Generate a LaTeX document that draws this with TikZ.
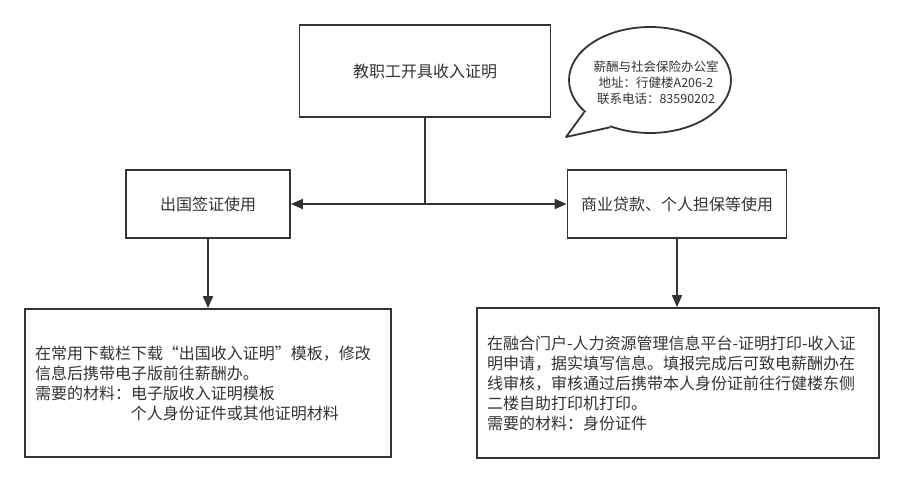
\documentclass[tikz,border=0pt]{standalone}
\usepackage{fontspec}
\newfontfamily\cjk{Noto Sans CJK SC}
\usetikzlibrary{arrows.meta,shapes.geometric}
\definecolor{ink}{HTML}{333333}
\begin{document}
\begin{tikzpicture}[x=1pt,y=-1pt,
  box/.style={draw=ink, line width=1.8pt, rectangle, inner sep=0pt, text=ink,
    font=\cjk\fontsize{16}{20}\selectfont},
  txtbox/.style={box, align=left, inner xsep=10pt},
  line/.style={draw=ink, line width=1.8pt},
  conn/.style={line, -{Triangle[length=12pt,width=10pt]}},
  ]
\useasboundingbox (0,0) rectangle (903,483);
\fill[white] (0,0) rectangle (903,483);

\node[box, minimum width=251, minimum height=92] (top) at (425,71) {教职工开具收入证明};
\node[box, minimum width=164, minimum height=68] (left) at (208,204) {出国签证使用};
\node[box, minimum width=219, minimum height=68] (right) at (677,204) {商业贷款、个人担保等使用};

\node[txtbox, text width=346, minimum height=148] (bl) at (208,383)
  {在常用下载栏下载“出国收入证明”模板，修改\\信息后携带电子版前往薪酬办。\\需要的材料：电子版收入证明模板\\\hspace*{6em}个人身份证件或其他证明材料};
\node[txtbox, text width=382, minimum height=150] (br) at (678,383)
  {在融合门户-人力资源管理信息平台-证明打印-收入证\\明申请，据实填写信息。填报完成后可致电薪酬办在\\线审核，审核通过后携带本人身份证前往行健楼东侧\\二楼自助打印机打印。\\需要的材料：身份证件};

% callout bubble
\node[ellipse, draw=ink, line width=1.8pt, minimum width=162, minimum height=106, inner sep=0pt] (bubble) at (650,80) {};
\coordinate (tip) at (566,137);
\fill[white] (bubble.206) -- (tip) -- (bubble.230) -- (610,110) -- cycle;
\draw[line, line join=round] (bubble.206) -- (tip) -- (bubble.230);
\node[text=ink, font=\cjk\fontsize{12.5}{16}\selectfont, align=center, inner sep=0pt] (btext) at (656,83)
  {薪酬与社会保险办公室\\地址：行健楼A206-2\\联系电话：83590202};

% connectors
\coordinate (j) at (top.south |- left.east);
\draw[line] (top.south) -- (j);
\draw[conn] (j) -- (left.east);
\draw[conn] (j) -- (right.west);
\draw[conn] (left.south) -- (left.south |- bl.north);
\draw[conn] (right.south) -- (right.south |- br.north);
\end{tikzpicture}
\end{document}
